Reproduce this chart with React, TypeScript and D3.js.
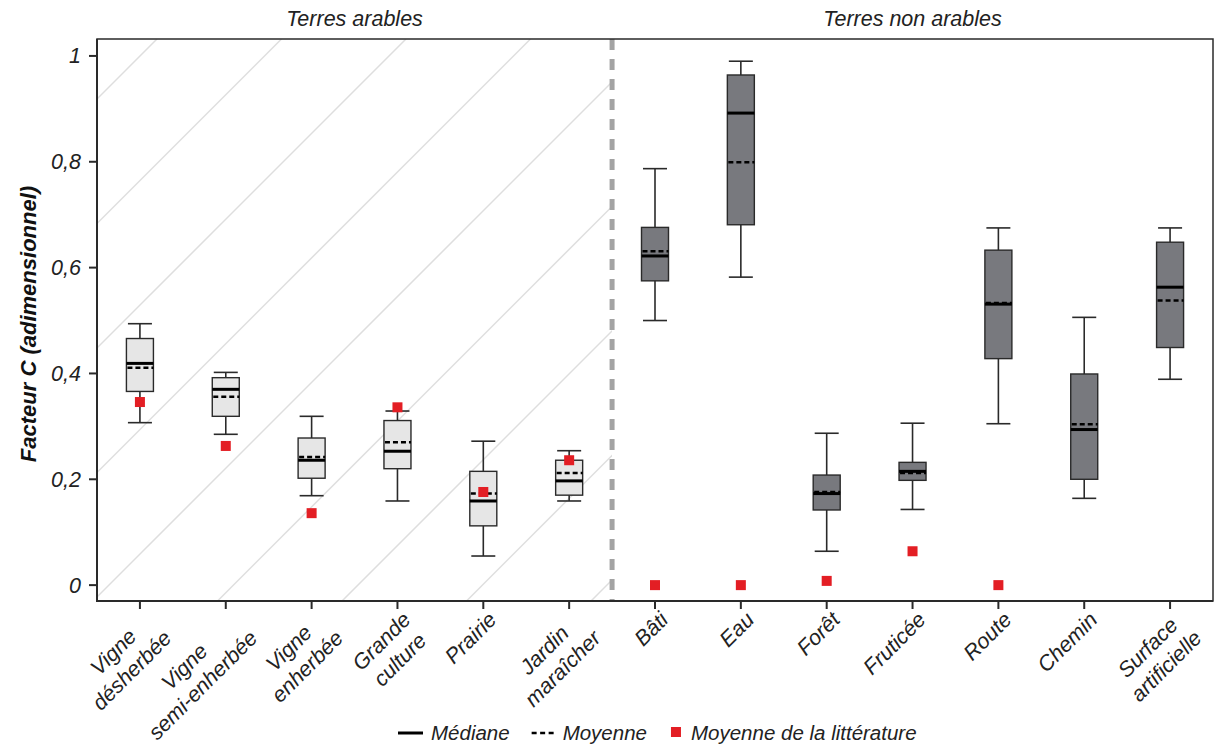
import React from "react";
import * as d3 from "d3";

// ---------- data ----------
const categoryLines: string[][] = [
  ["Vigne", "désherbée"],
  ["Vigne", "semi-enherbée"],
  ["Vigne", "enherbée"],
  ["Grande", "culture"],
  ["Prairie"],
  ["Jardin", "maraîcher"],
  ["Bâti"],
  ["Eau"],
  ["Forêt"],
  ["Fruticée"],
  ["Route"],
  ["Chemin"],
  ["Surface", "artificielle"],
];
const arable = [true, true, true, true, true, true, false, false, false, false, false, false, false];
const whiskerLow = [0.307, 0.285, 0.169, 0.159, 0.055, 0.159, 0.5, 0.582, 0.064, 0.143, 0.305, 0.164, 0.389];
const q1 = [0.366, 0.319, 0.202, 0.22, 0.112, 0.17, 0.575, 0.681, 0.142, 0.198, 0.428, 0.2, 0.449];
const median = [0.419, 0.37, 0.236, 0.253, 0.159, 0.197, 0.622, 0.892, 0.173, 0.215, 0.531, 0.294, 0.563];
const mean = [0.411, 0.356, 0.242, 0.27, 0.173, 0.212, 0.631, 0.799, 0.176, 0.212, 0.533, 0.304, 0.538];
const q3 = [0.466, 0.392, 0.278, 0.311, 0.215, 0.236, 0.676, 0.964, 0.208, 0.232, 0.633, 0.399, 0.648];
const whiskerHigh = [0.494, 0.402, 0.319, 0.329, 0.272, 0.254, 0.787, 0.99, 0.287, 0.306, 0.675, 0.506, 0.675];
const literature: (number | null)[] = [0.346, 0.263, 0.136, 0.336, 0.176, 0.236, 0, 0, 0.008, 0.064, 0, null, null];
const yTicks = [0, 0.2, 0.4, 0.6, 0.8, 1];
const yTickLabels = ["0", "0,2", "0,4", "0,6", "0,8", "1"];
const sectionTitles = ["Terres arables", "Terres non arables"];
const yTitle = "Facteur C (adimensionnel)";
const legendLabels = ["Médiane", "Moyenne", "Moyenne de la littérature"];

// ---------- layout ----------
const W = 1215;
const H = 747;
const L = 97;
const R = 1213;
const T = 39;
const B = 601;
const FONT = '"Liberation Sans", Arial, sans-serif';
const FS = 21.5;
const LFS = 20.5;

let ctx: CanvasRenderingContext2D | null = null;
function textWidth(s: string, size = FS, weight = "normal") {
  if (!ctx) ctx = document.createElement("canvas").getContext("2d");
  if (!ctx) return s.length * size * 0.5;
  ctx.font = `italic ${weight} ${size}px "Liberation Sans"`;
  return ctx.measureText(s).width;
}

export default function App() {
  const idx = categoryLines.map((_, i) => i);
  const x = d3.scaleBand<number>().domain(idx).range([L, R]).padding(0);
  const bw = x.bandwidth();
  const cx = (i: number) => (x(i) as number) + bw / 2;
  const y = d3.scaleLinear().domain([-0.03, 1.032]).range([B, T]);

  const divX = x(6) as number;
  const boxW = 27;
  const capW = 24;
  const sq = 10;

  // hatch lines (x + y = c)
  const hatch: number[] = [];
  for (let k = -1; k < 10; k++) hatch.push(196 + k * 124.5);

  const lh = 26;
  const base = 24.5;

  // legend
  const lgY = 733;
  let lx = 398;
  const lg: any[] = [];
  lg.push({ type: "solid", x: lx });
  lx += 25 + 8;
  lg.push({ type: "text", x: lx, t: legendLabels[0] });
  lx += textWidth(legendLabels[0], LFS) + 22;
  lg.push({ type: "dash", x: lx });
  lx += 24 + 7;
  lg.push({ type: "text", x: lx, t: legendLabels[1] });
  lx += textWidth(legendLabels[1], LFS) + 24;
  lg.push({ type: "sq", x: lx });
  lx += sq + 10;
  lg.push({ type: "text", x: lx, t: legendLabels[2] });

  const stroke = "#2a2a2a";

  return (
    <svg
      width={W}
      height={H}
      style={{ position: "absolute", left: 0, top: 0, background: "#fff" }}
      fontFamily={FONT}
      fontStyle="italic"
    >
      <defs>
        <clipPath id="arableClip">
          <rect x={L} y={T} width={divX - L} height={B - T} />
        </clipPath>
      </defs>
      <rect x={0} y={0} width={W} height={H} fill="#fff" />

      {/* hatch */}
      <g clipPath="url(#arableClip)">
        {hatch.map((c, i) => (
          <line key={i} x1={c - T} y1={T} x2={c - B} y2={B} stroke="#dedede" strokeWidth={1.5} />
        ))}
      </g>

      {/* section titles */}
      <text x={(L + divX) / 2} y={26} textAnchor="middle" fontSize={FS} fill="#222">
        {sectionTitles[0]}
      </text>
      <text x={(divX + R) / 2} y={26} textAnchor="middle" fontSize={FS} fill="#222">
        {sectionTitles[1]}
      </text>

      {/* divider */}
      <line x1={divX} y1={T} x2={divX} y2={B} stroke="#a3a3a3" strokeWidth={5} strokeDasharray="11 9" />

      {/* frame */}
      <rect x={L} y={T} width={R - L} height={B - T} fill="none" stroke={stroke} strokeWidth={1.5} />
      <line x1={L} y1={T} x2={L} y2={B + 1} stroke={stroke} strokeWidth={2} />
      <line x1={L - 1} y1={B} x2={R} y2={B} stroke={stroke} strokeWidth={2} />

      {/* y axis */}
      {yTicks.map((t, i) => (
        <g key={i}>
          <line x1={L - 8} x2={L} y1={y(t)} y2={y(t)} stroke={stroke} strokeWidth={2} />
          <text x={L - 16} y={y(t) + 7.5} textAnchor="end" fontSize={FS} fill="#222">
            {yTickLabels[i]}
          </text>
        </g>
      ))}
      <text
        transform={`translate(36,${(T + B) / 2 + 4}) rotate(-90)`}
        textAnchor="middle"
        fontSize={22}
        fontWeight="bold"
        fill="#111"
      >
        {yTitle}
      </text>

      {/* x ticks + labels */}
      {idx.map((i) => {
        const lines = categoryLines[i];
        const bwid = Math.max(...lines.map((s) => textWidth(s)));
        return (
          <g key={i}>
            <line x1={cx(i)} x2={cx(i)} y1={B} y2={B + 8} stroke={stroke} strokeWidth={2} />
            <g transform={`translate(${cx(i)},${B}) rotate(-45)`}>
              {lines.map((s, j) => (
                <text key={j} x={-4 - bwid / 2} y={base + j * lh} textAnchor="middle" fontSize={FS} fill="#222">
                  {s}
                </text>
              ))}
            </g>
          </g>
        );
      })}

      {/* boxes */}
      {idx.map((i) => {
        const c = cx(i);
        const fill = arable[i] ? "#e6e6e6" : "#78797e";
        return (
          <g key={i}>
            <line x1={c} x2={c} y1={y(whiskerHigh[i])} y2={y(q3[i])} stroke={stroke} strokeWidth={1.6} />
            <line x1={c} x2={c} y1={y(q1[i])} y2={y(whiskerLow[i])} stroke={stroke} strokeWidth={1.6} />
            <line x1={c - capW / 2} x2={c + capW / 2} y1={y(whiskerHigh[i])} y2={y(whiskerHigh[i])} stroke={stroke} strokeWidth={1.6} />
            <line x1={c - capW / 2} x2={c + capW / 2} y1={y(whiskerLow[i])} y2={y(whiskerLow[i])} stroke={stroke} strokeWidth={1.6} />
            <rect
              x={c - boxW / 2}
              y={y(q3[i])}
              width={boxW}
              height={y(q1[i]) - y(q3[i])}
              fill={fill}
              stroke={stroke}
              strokeWidth={1.4}
            />
            <line x1={c - boxW / 2} x2={c + boxW / 2} y1={y(median[i])} y2={y(median[i])} stroke="#000" strokeWidth={3} />
            <line
              x1={c - boxW / 2 + 1}
              x2={c + boxW / 2}
              y1={y(mean[i])}
              y2={y(mean[i])}
              stroke="#000"
              strokeWidth={2.5}
              strokeDasharray="5 3"
            />
          </g>
        );
      })}

      {/* literature means */}
      {idx.map((i) =>
        literature[i] === null ? null : (
          <rect
            key={i}
            x={cx(i) - sq / 2}
            y={y(literature[i] as number) - sq / 2}
            width={sq}
            height={sq}
            fill="#e31e24"
          />
        )
      )}

      {/* legend */}
      {lg.map((it, k) => {
        if (it.type === "solid")
          return <line key={k} x1={it.x} x2={it.x + 25} y1={lgY} y2={lgY} stroke="#000" strokeWidth={3} />;
        if (it.type === "dash")
          return (
            <line key={k} x1={it.x} x2={it.x + 24} y1={lgY} y2={lgY} stroke="#000" strokeWidth={2.5} strokeDasharray="5 3.5" />
          );
        if (it.type === "sq")
          return <rect key={k} x={it.x} y={lgY - sq / 2 - 1} width={sq} height={sq} fill="#e31e24" />;
        return (
          <text key={k} x={it.x} y={lgY + 7} fontSize={LFS} fill="#222">
            {it.t}
          </text>
        );
      })}
    </svg>
  );
}
